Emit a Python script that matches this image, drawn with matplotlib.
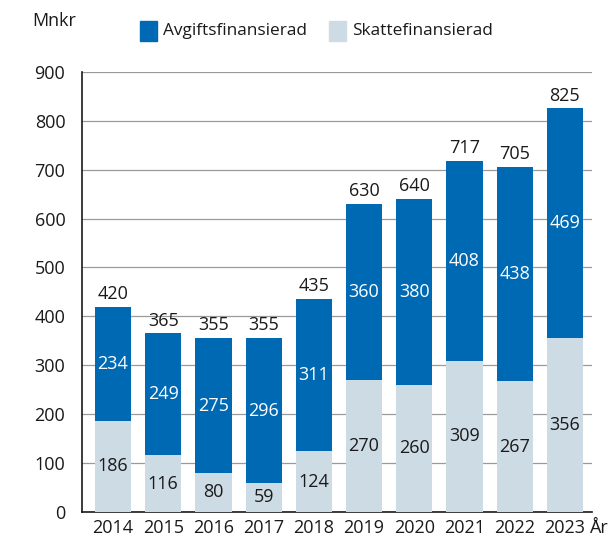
import numpy as np
import matplotlib
matplotlib.use("Agg")
import matplotlib.pyplot as plt
from matplotlib.patches import Rectangle

years = ["2014", "2015", "2016", "2017", "2018", "2019", "2020", "2021", "2022", "2023"]
skatt = [186, 116, 80, 59, 124, 270, 260, 309, 267, 356]
avgift = [234, 249, 275, 296, 311, 360, 380, 408, 438, 469]
totals = [420, 365, 355, 355, 435, 630, 640, 717, 705, 825]

dark = "#0069b4"
light = "#cddbe5"
txt = "#1a1a1a"

plt.rcParams["font.family"] = ["Open Sans", "DejaVu Sans"]

fig = plt.figure(figsize=(6.16, 5.4), dpi=100)
ax = fig.add_axes([0.133, 0.052, 0.828, 0.815])

x = np.arange(len(years))
w = 0.72
ax.bar(x, skatt, w, color=light, zorder=3)
ax.bar(x, avgift, w, bottom=skatt, color=dark, zorder=3)

fs = 13
for i in range(len(years)):
    ax.text(x[i], skatt[i] / 2, str(skatt[i]), ha="center", va="center", fontsize=fs, color=txt, zorder=4)
    ax.text(x[i], skatt[i] + avgift[i] / 2, str(avgift[i]), ha="center", va="center", fontsize=fs, color="white", zorder=4)
    ax.text(x[i], skatt[i] + avgift[i] + 8, str(totals[i]), ha="center", va="bottom", fontsize=fs, color=txt, zorder=4)

ax.set_xlim(-0.62, 9.54)
ax.set_ylim(0, 900)
ax.set_yticks(range(0, 901, 100))
ax.set_xticks(x)
ax.set_xticklabels(years)
ax.tick_params(axis="both", length=0, labelsize=fs, colors=txt)
ax.tick_params(axis="x", pad=5)
ax.tick_params(axis="y", pad=12)
ax.grid(axis="y", color="#9a9a9a", lw=0.9, zorder=0)
for s in ["top", "right"]:
    ax.spines[s].set_visible(False)
ax.spines["left"].set_color(txt)
ax.spines["bottom"].set_color(txt)
ax.spines["left"].set_linewidth(1.2)
ax.spines["bottom"].set_linewidth(1.2)

fig.text(590 / 616, 1 - 528 / 540, "År", fontsize=fs, color=txt, ha="left", va="center")
fig.text(32 / 616, 1 - 21 / 540, "Mnkr", fontsize=fs, color=txt, ha="left", va="center")

# legend
fig.patches.append(Rectangle((140 / 616, 1 - 41 / 540), 17 / 616, 20 / 540, transform=fig.transFigure, color=dark))
fig.text(163 / 616, 1 - 31 / 540, "Avgiftsfinansierad", fontsize=12.4, color=txt, va="center")
fig.patches.append(Rectangle((329 / 616, 1 - 41 / 540), 17 / 616, 20 / 540, transform=fig.transFigure, color=light))
fig.text(352 / 616, 1 - 31 / 540, "Skattefinansierad", fontsize=12.4, color=txt, va="center")

fig.savefig("out.png", dpi=100)
